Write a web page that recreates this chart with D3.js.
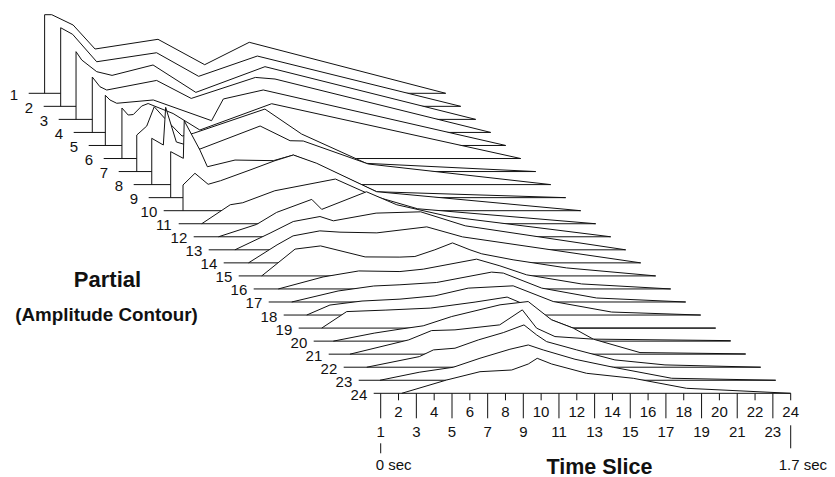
<!DOCTYPE html>
<html>
<head>
<meta charset="utf-8">
<script src="https://cdn.jsdelivr.net/npm/d3@7"></script>
<style>
  html, body { margin: 0; padding: 0; background: #fff; }
  svg { display: block; font-family: "Liberation Sans", Arial, Helvetica, sans-serif; }
</style>
</head>
<body>
<svg id="chart" width="835" height="477"></svg>
<script>
// Partial numbers (back to front) and time-slice tick labels
const partials = d3.range(1, 25);
const timeTicks = d3.range(1, 25);

// Amplitude contour of each partial: [time slice, level]
const contour01 = [[1.5,0],[1.5,78.6],[1.9,78.6],[3.1,68.3],[4.33,44.3],[7.86,54],[10.48,28.6],[12.98,51],[24,0]];
const contour02 = [[1.56,0],[1.56,78.6],[2.23,72],[3.58,44.6],[6.94,53.6],[9.3,30],[12.59,50.3],[24,0]];
const contour03 = [[1.58,0],[1.58,67.7],[1.9,59.4],[2.74,47.7],[3.6,44],[5.9,54.4],[8.3,27],[12.18,52.7],[24,0]];
const contour04 = [[1.65,0],[1.65,55.4],[2.08,45.7],[2.46,42.4],[5.26,52],[7.2,34],[10.8,55],[11.9,53.4],[24,0]];
const contour05 = [[1.54,0],[1.54,50.2],[1.8,45.5],[2.18,42.2],[4.23,45.5],[7.5,24.8],[8.16,46.5],[10.4,55.5],[24,0]];
const contour06 = [[1.63,0],[1.63,50.5],[1.98,43.5],[2.27,44],[2.74,52.5],[3.1,55],[4.5,45],[6,28.5],[10.03,54.8],[24,0]];
const contour07 = [[1.62,0],[1.62,36.5],[2.18,45.5],[2.6,64.8],[3.2,53],[4.16,35.5],[4.79,38.2],[8.81,62.5],[10.87,37.5],[14.5,8.2],[24,0]];
const contour08 = [[1.62,0],[1.62,46.3],[2.27,39.6],[2.4,77.3],[3.0,42.6],[4.33,35.6],[7.7,58.6],[9.38,43.9],[10.12,43.6],[13.77,20.6],[24,0]];
const contour09 = [[1.84,0],[1.84,46],[2.55,39.3],[2.6,76.9],[3.48,47.6],[3.9,30.9],[5.45,37.6],[7.6,37],[8.72,42.6],[9.93,34.3],[13.4,5.9],[24,0]];
const contour10 = [[1.69,0],[1.69,25.7],[2.36,37.4],[3.1,26.4],[3.8,30],[5.45,40.7],[6.8,49.7],[7.88,55.7],[9.19,47.4],[12.55,19],[24,0]];
const contour11 = [[1.9,0],[3.5,19],[4.2,21],[6,33],[9.4,44.7],[11.5,28],[14,15],[24,0]];
const contour12 = [[2.0,0],[4.14,12.4],[5.26,24.4],[7.23,37.4],[7.79,27.4],[10.3,45],[12,32],[15,20],[24,0]];
const contour13 = [[2.08,0],[4.05,16.7],[5.35,28.3],[6.85,33.3],[7.6,29],[10,36.7],[12.5,38],[15,24],[24,0]];
const contour14 = [[2.0,0],[3.6,18],[4.5,27],[6,32],[7.13,30.7],[9.2,30],[12,36],[14,26],[24,0]];
const contour15 = [[1.9,0],[3.77,26.8],[5.2,30],[7.7,19],[9.65,18.8],[10.49,19.4],[11.61,26.1],[12.6,33],[13.58,26.1],[14.24,22.1],[16,16.1],[19,8],[24,0]];
const contour16 = [[1.99,0],[4.5,12],[6.5,18],[8.81,17.4],[10.12,19.8],[13.11,29.8],[14.42,23.1],[15.92,14.1],[19,5],[24,0]];
const contour17 = [[1.9,0],[4.5,11],[6.5,16],[7.97,17.2],[10.03,19.5],[13.11,29.9],[13.77,28.9],[15.92,13.9],[19,4],[24,0]];
const contour18 = [[1.9,0],[3.2,10],[5,14],[7.13,15.9],[9.09,19.2],[10.96,26.9],[13.48,29.2],[15.73,13.5],[19,3],[24,0]];
const contour19 = [[1.9,0],[3.3,16.5],[5.5,18],[8,20],[10.5,26],[12.3,31],[13.5,22],[14.79,8.2],[16,0],[24,0]];
const contour20 = [[1.71,0],[4,8],[5.45,12],[6.75,15.3],[8.35,24.6],[11.06,36.3],[12.64,39.6],[13.95,21.3],[15.17,13],[16.29,2],[24,0.5]];
const contour21 = [[1.8,0],[5.1,14.3],[6.38,23.6],[7.69,24.3],[10.2,29.3],[11.47,44.3],[12.27,26],[13.3,17.6],[15.45,15],[18.07,1.6],[24,0.3]];
const contour22 = [[1.9,0],[4.85,10.6],[5.64,17.3],[6.85,19],[8.16,27.3],[9.56,34.6],[10.72,42.3],[11.43,32.3],[11.99,25.6],[13.68,17.3],[15.82,7.3],[18.63,2.3],[24,0]];
const contour23 = [[1.8,0],[4.0,8],[5.91,13],[7.41,22],[9.09,31],[10.12,35.3],[10.96,30.3],[12.74,21],[14.89,13],[18.16,2],[24,0]];
const contour24 = [[2.18,0],[4.7,13.3],[6.57,21.6],[8.35,23.3],[9.28,29.3],[9.78,35],[10.59,29.3],[12.55,20],[15.17,15],[18.16,5],[24,0]];

const contours = [contour01, contour02, contour03, contour04, contour05, contour06,
  contour07, contour08, contour09, contour10, contour11, contour12,
  contour13, contour14, contour15, contour16, contour17, contour18,
  contour19, contour20, contour21, contour22, contour23, contour24];

const svg = d3.select("#chart");
const ink = "#111";

// Time axis of the front partial; each partial further back is shifted up-left
const x = d3.scaleLinear().domain([1, 24]).range([380.7, 790.7]);
const depthX = d3.scaleLinear().domain([24, 1]).range([0, -345]);
const baseY = d3.scaleLinear().domain([1, 24]).range([93.3, 393.3]);
const level = d3.scaleLinear().domain([0, 80]).range([0, 80]);

const line = d3.line().x(d => x(d[0])).y(d => -level(d[1]));

// Draw back to front so nearer partials hide the ones behind (hidden lines)
partials.forEach((p, i) => {
  const g = svg.append("g")
    .attr("transform", `translate(${depthX(p)},${baseY(p)})`);
  const pts = contours[i];

  // opaque face of this partial
  g.append("path")
    .attr("d", line(pts) + "Z")
    .attr("fill", "#fff")
    .attr("stroke", "none");

  // baseline with its leading stub
  g.append("line")
    .attr("x1", x(1) - 7).attr("x2", x(24))
    .attr("y1", 0).attr("y2", 0)
    .attr("stroke", ink).attr("stroke-width", 1);

  // contour
  g.append("path")
    .attr("d", line(pts))
    .attr("fill", "none")
    .attr("stroke", ink)
    .attr("stroke-width", 1)
    .attr("stroke-linejoin", "miter");

  // partial number
  g.append("text")
    .attr("x", x(1) - 7 - 14.8)
    .attr("y", 6.5)
    .attr("text-anchor", "middle")
    .attr("font-size", 15)
    .attr("fill", ink)
    .text(p);
});

// Time-slice axis along the front baseline
const axisY = baseY(24);
const axisG = svg.append("g");
timeTicks.forEach(t => {
  const odd = t % 2 === 1;
  axisG.append("line")
    .attr("x1", x(t)).attr("x2", x(t))
    .attr("y1", axisY).attr("y2", odd ? axisY + 25 : axisY + 7)
    .attr("stroke", ink).attr("stroke-width", 1);
  axisG.append("text")
    .attr("x", x(t))
    .attr("y", odd ? axisY + 43.5 : axisY + 24)
    .attr("text-anchor", "middle")
    .attr("font-size", 15)
    .attr("fill", ink)
    .text(t);
});

// time markers at the first and last slice
axisG.append("line")
  .attr("x1", x(1)).attr("x2", x(1))
  .attr("y1", axisY + 50).attr("y2", axisY + 60)
  .attr("stroke", ink).attr("stroke-width", 1);
axisG.append("text")
  .attr("x", x(1) - 5).attr("y", axisY + 77)
  .attr("font-size", 15).attr("fill", ink)
  .text("0 sec");
axisG.append("line")
  .attr("x1", x(24)).attr("x2", x(24))
  .attr("y1", axisY + 32).attr("y2", axisY + 55)
  .attr("stroke", ink).attr("stroke-width", 1);
axisG.append("text")
  .attr("x", x(24) - 12).attr("y", axisY + 77)
  .attr("font-size", 15).attr("fill", ink)
  .text("1.7 sec");

// titles
svg.append("text")
  .attr("x", 599.5).attr("y", 473.5)
  .attr("text-anchor", "middle")
  .attr("font-size", 21.5).attr("font-weight", "bold").attr("fill", ink)
  .text("Time Slice");
svg.append("text")
  .attr("x", 107.5).attr("y", 286.7)
  .attr("text-anchor", "middle")
  .attr("font-size", 22).attr("font-weight", "bold").attr("fill", ink)
  .text("Partial");
svg.append("text")
  .attr("x", 106.5).attr("y", 320.7)
  .attr("text-anchor", "middle")
  .attr("font-size", 18.8).attr("font-weight", "bold").attr("fill", ink)
  .text("(Amplitude Contour)");
</script>
</body>
</html>
